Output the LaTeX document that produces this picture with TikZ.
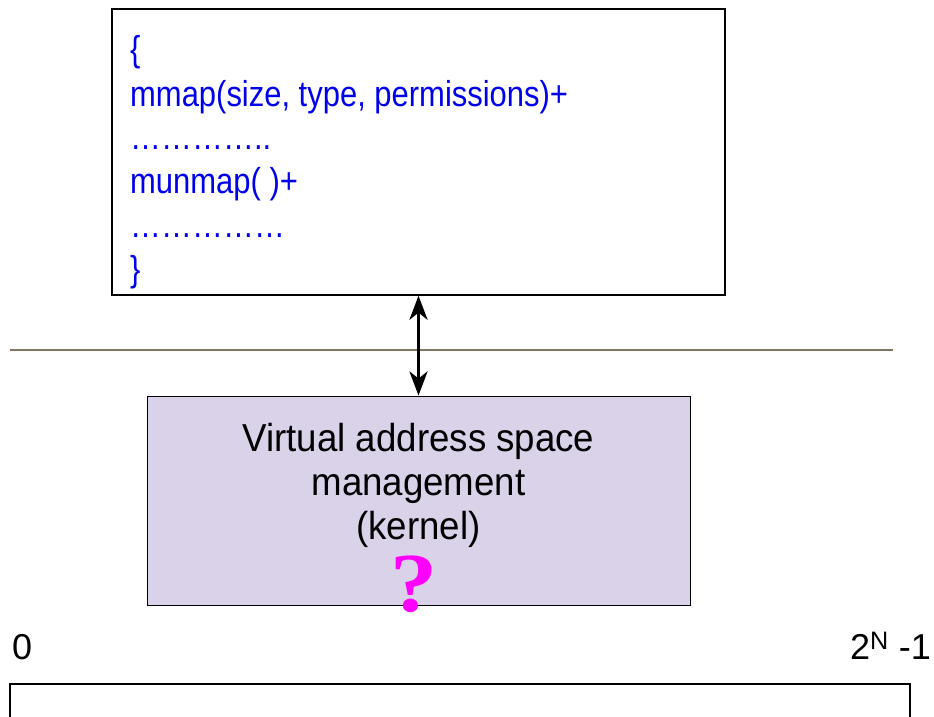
\documentclass[tikz,border=0pt]{standalone}
\usepackage{fontspec}
\setmainfont{Liberation Sans}
\newfontfamily\qmarkfont{Liberation Serif}
\usetikzlibrary{arrows.meta}

\definecolor{callblue}{RGB}{0,0,235}
\definecolor{kernelfill}{RGB}{217,210,233}
\definecolor{userline}{RGB}{128,118,98}
\definecolor{qmark}{RGB}{255,0,255}

\begin{document}
\begin{tikzpicture}[x=1pt, y=-1pt,
    box/.style={draw, line width=1.4pt, inner sep=0pt},
    bigtext/.style={font=\fontsize{36}{44}\selectfont, inner sep=0pt},
    bothway/.style={{Stealth[length=24pt,width=18pt,inset=7pt]}-{Stealth[length=24pt,width=18pt,inset=7pt]}, line width=3.4pt}]
    \useasboundingbox (0,0) rectangle (934,717);

    % user program issuing the calls
    \node[box, fill=white, minimum width=613pt, minimum height=286pt] (calls) at (418.5,152) {};
    \node[anchor=base west, inner sep=0pt, text=callblue,
          font=\fontsize{36}{44}\selectfont] (callslist) at (130,62)
        {\scalebox{0.86}[1]{\begin{tabular}[t]{@{}l@{}}
            \{\\ mmap(size, type, permissions)+\\ …………..\\ munmap( )+\\ ……………\\ \}
         \end{tabular}}};

    % user / kernel boundary
    \draw[userline, line width=1.2pt] (10,350) -- (893,350);

    % kernel side
    \node[box, line width=1pt, fill=kernelfill, minimum width=543pt, minimum height=209pt] (vasm) at (418.5,500.5) {};
    \node[anchor=base, inner sep=0pt, font=\fontsize{39}{44}\selectfont] (vasmtext) at (418.5,451)
        {\scalebox{0.94}[1]{\begin{tabular}[t]{@{}c@{}}
            Virtual address space\\ management\\ (kernel)
         \end{tabular}}};
    \node[text=qmark, font=\qmarkfont\bfseries\fontsize{84}{84}\selectfont, inner sep=0pt] (unknown) at (414,584)
        {\scalebox{1.12}[1]{?}};

    \draw[bothway] (calls.south) -- (vasm.north);

    % the address range below
    \node[bigtext, anchor=base west] (lowaddr) at (12,659) {0};
    \node[bigtext, anchor=base east] (highaddr) at (931,659) {2\textsuperscript{N} -1};
    \draw[line width=1.4pt] (10,684) rectangle (910,760);
\end{tikzpicture}
\end{document}
